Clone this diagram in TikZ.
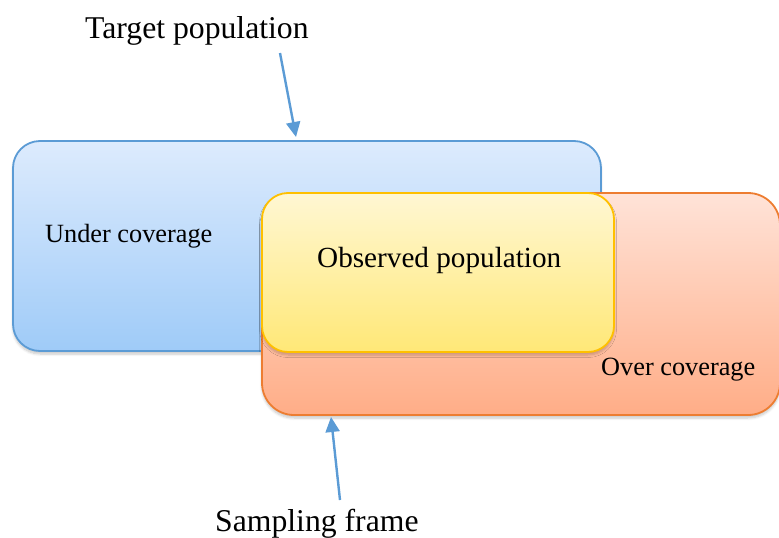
\documentclass[tikz,border=0pt]{standalone}
\usepackage{fontspec}
\setmainfont{Liberation Serif}
\usetikzlibrary{arrows.meta,shadows.blur}

\definecolor{blueline}{HTML}{5B9BD5}
\definecolor{bluetop}{HTML}{DDEBFD}
\definecolor{bluebot}{HTML}{9FCBF8}
\definecolor{orangeline}{HTML}{ED7D31}
\definecolor{orangetop}{HTML}{FFE3D8}
\definecolor{orangebot}{HTML}{FFAD87}
\definecolor{yellowline}{HTML}{FFC000}
\definecolor{yellowtop}{HTML}{FFF7D3}
\definecolor{yellowbot}{HTML}{FFE877}

\tikzset{
  region/.style={rectangle, inner sep=0pt, outer sep=0pt, line width=1.8pt,
    blur shadow={shadow xshift=0pt, shadow yshift=-3pt, shadow opacity=22,
      shadow blur steps=6, shadow blur radius=2.5pt}},
  bigtext/.style={inner sep=0pt, anchor=base west, font=\fontsize{31.7}{36}\selectfont},
  midtext/.style={inner sep=0pt, anchor=base west, font=\fontsize{29.2}{34}\selectfont},
  smalltext/.style={inner sep=0pt, anchor=base west, font=\fontsize{26.3}{30}\selectfont},
  pointer/.style={draw=blueline, line width=2.4pt,
    -{Triangle[length=15pt,width=14pt]}}
}

\begin{document}
\begin{tikzpicture}[x=1pt,y=-1pt]
  \useasboundingbox (0,0) rectangle (779,538);

  % target population
  \node[region, draw=blueline, top color=bluetop, bottom color=bluebot,
        minimum width=588pt, minimum height=210pt, rounded corners=27pt]
        (target) at (307,246) {};
  % sampling frame
  \node[region, draw=orangeline, top color=orangetop, bottom color=orangebot,
        minimum width=518pt, minimum height=222pt, rounded corners=32pt]
        (frame) at (521,304) {};
  % observed population
  \node[region, draw=yellowline, top color=yellowtop, bottom color=yellowbot,
        minimum width=352pt, minimum height=159pt, rounded corners=26pt]
        (observed) at (438,272.5) {};

  % labels
  \node[bigtext] (ltarget) at (85,38) {Target population};
  \node[smalltext] (lunder) at (45,242) {Under coverage};
  \node[midtext] (lobserved) at (317,267) {Observed population};
  \node[smalltext] (lover) at (601,375) {Over coverage};
  \node[bigtext] (lframe) at (215,531) {Sampling frame};

  % pointers from the labels to the regions
  \coordinate (ttail) at (280,53);
  \coordinate (ttip) at (296,137);
  \coordinate (ftail) at (340,500);
  \coordinate (ftip) at (331,417);
  \draw[pointer] (ttail) -- (ttip);
  \draw[pointer] (ftail) -- (ftip);
\end{tikzpicture}
\end{document}
